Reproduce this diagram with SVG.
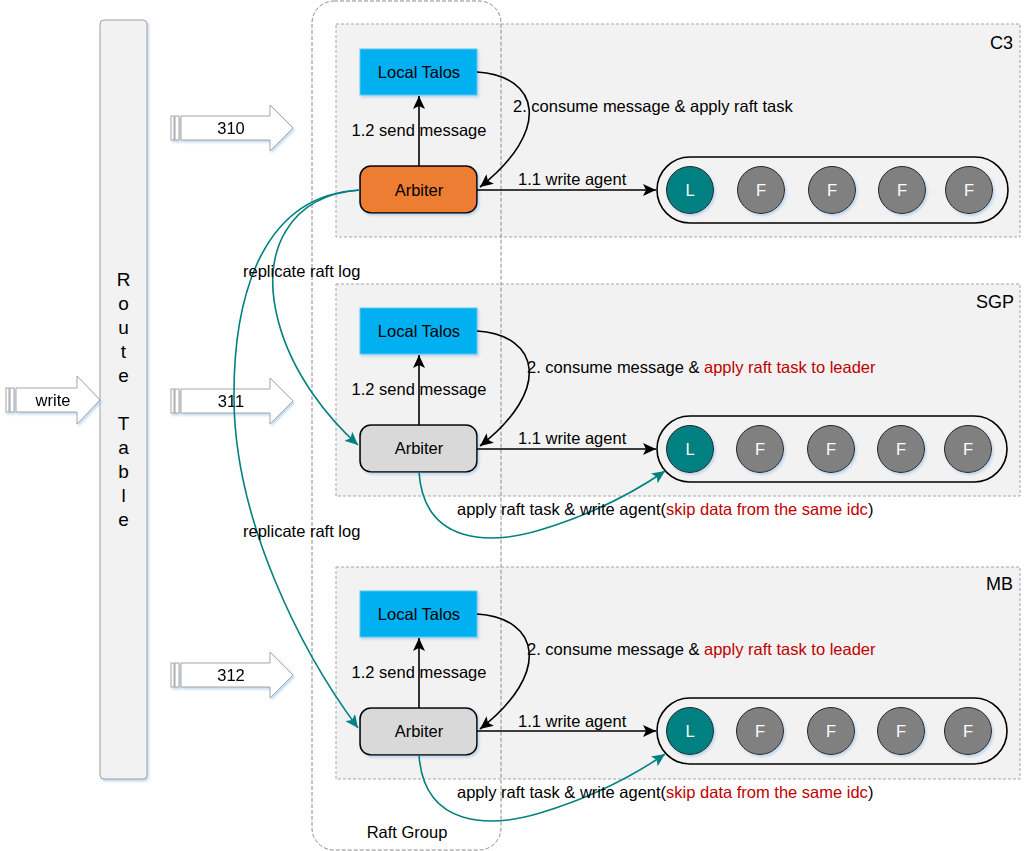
<svg xmlns="http://www.w3.org/2000/svg" width="1024" height="851" viewBox="0 0 1024 851">
<defs>
<filter id="sh" x="-10%" y="-10%" width="130%" height="130%">
<feDropShadow dx="1.5" dy="2" stdDeviation="1.2" flood-color="#9dc3e6" flood-opacity="0.6"/>
</filter>
<marker id="ab" markerUnits="userSpaceOnUse" markerWidth="14" markerHeight="12" refX="13" refY="6" orient="auto">
<path d="M0,0 L13,6 L0,12 L3,6 Z" fill="#000"/>
</marker>
<marker id="at" markerUnits="userSpaceOnUse" markerWidth="14" markerHeight="12" refX="13" refY="6" orient="auto">
<path d="M0,0 L13,6 L0,12 L3,6 Z" fill="#008080"/>
</marker>
<style>
text{font-family:"Liberation Sans",Arial,sans-serif;font-size:16.5px;fill:#000}
.red{fill:#c00000}
.region{fill:#f2f2f2;stroke:#a6a6a6;stroke-width:1;stroke-dasharray:3 2}
.talos{fill:#00b0f0;stroke:#5bc8f5;stroke-width:1}
.arb{fill:#d9d9d9;stroke:#000;stroke-width:1.6}
.pill{fill:none;stroke:#000;stroke-width:1.6}
.lead{fill:#008080;stroke:#222;stroke-width:1}
.fol{fill:#808080;stroke:#222;stroke-width:1}
.wt{fill:#fff}
.blk{fill:none;stroke:#000;stroke-width:1.6}
.teal{fill:none;stroke:#008080;stroke-width:1.6}
.bigarrow{fill:#fff;stroke:#a6a6a6;stroke-width:1}
.c{text-anchor:middle}
.r{text-anchor:end}
</style>
</defs>
<rect width="1024" height="851" fill="#fff"/>

<g id="route-table">
<rect x="100" y="20" width="47" height="759" rx="4" fill="#f2f2f2" stroke="#a0a0a0" stroke-width="1" filter="url(#sh)"/>
<g style="font-size:19px" class="c">
<text x="123.5" y="286" class="c" style="font-size:19px">R</text>
<text x="123.5" y="310" class="c" style="font-size:19px">o</text>
<text x="123.5" y="334" class="c" style="font-size:19px">u</text>
<text x="123.5" y="358" class="c" style="font-size:19px">t</text>
<text x="123.5" y="382" class="c" style="font-size:19px">e</text>
<text x="123.5" y="430" class="c" style="font-size:19px">T</text>
<text x="123.5" y="454" class="c" style="font-size:19px">a</text>
<text x="123.5" y="478" class="c" style="font-size:19px">b</text>
<text x="123.5" y="502" class="c" style="font-size:19px">l</text>
<text x="123.5" y="526" class="c" style="font-size:19px">e</text>
</g>
</g>

<g id="write-arrow" filter="url(#sh)">
<rect x="6" y="388" width="3" height="24" class="bigarrow"/>
<rect x="10" y="388" width="4" height="24" class="bigarrow"/>
<polygon points="16,388 77,388 77,376 100,400 77,424 77,412 16,412" class="bigarrow"/>
<text x="53" y="406" class="c">write</text>
</g>

<g id="arrow-310" filter="url(#sh)">
<rect x="171" y="116" width="3" height="24" class="bigarrow"/>
<rect x="175" y="116" width="4" height="24" class="bigarrow"/>
<polygon points="181,116 270,116 270,105 293,128 270,151 270,140 181,140" class="bigarrow"/>
<text x="231" y="134" class="c">310</text>
</g>
<g id="arrow-311" filter="url(#sh)">
<rect x="171" y="389" width="3" height="24" class="bigarrow"/>
<rect x="175" y="389" width="4" height="24" class="bigarrow"/>
<polygon points="181,389 270,389 270,378 293,401 270,424 270,413 181,413" class="bigarrow"/>
<text x="231" y="407" class="c">311</text>
</g>
<g id="arrow-312" filter="url(#sh)">
<rect x="171" y="663" width="3" height="24" class="bigarrow"/>
<rect x="175" y="663" width="4" height="24" class="bigarrow"/>
<polygon points="181,663 270,663 270,652 293,675 270,698 270,687 181,687" class="bigarrow"/>
<text x="231" y="681" class="c">312</text>
</g>

<g id="region-c3">
<rect x="336" y="24" width="684" height="213" class="region"/>
<text x="1013" y="49" class="r" style="font-size:18px">C3</text>
</g>
<g id="region-sgp">
<rect x="336" y="284" width="684" height="212" class="region"/>
<text x="1014" y="308" class="r" style="font-size:18px">SGP</text>
</g>
<g id="region-mb">
<rect x="336" y="567" width="684" height="212" class="region"/>
<text x="1013" y="590" class="r" style="font-size:18px">MB</text>
</g>

<g id="raft-group">
<rect x="312" y="1" width="189" height="849" rx="22" fill="none" stroke="#8c8c8c" stroke-width="1" stroke-dasharray="4 2"/>
<text x="407" y="838" class="c">Raft Group</text>
</g>

<g id="c3-talos">
<rect x="360" y="49" width="117" height="46" class="talos" filter="url(#sh)"/>
<text x="419" y="78" class="c">Local Talos</text>
</g>
<g id="c3-arbiter">
<rect x="360" y="166" width="117" height="47" rx="11" class="arb" style="fill:#ed7d31" filter="url(#sh)"/>
<text x="419" y="196" class="c">Arbiter</text>
</g>
<g id="c3-group">
<rect x="657" y="157" width="351" height="66" rx="33" class="pill"/>
<circle cx="690" cy="190" r="23.5" class="lead" filter="url(#sh)"/>
<circle cx="761" cy="190" r="23.5" class="fol" filter="url(#sh)"/>
<circle cx="832" cy="190" r="23.5" class="fol" filter="url(#sh)"/>
<circle cx="902" cy="190" r="23.5" class="fol" filter="url(#sh)"/>
<circle cx="969" cy="190" r="23.5" class="fol" filter="url(#sh)"/>
<text x="690" y="196" class="c wt">L</text>
<text x="761" y="196" class="c wt">F</text>
<text x="832" y="196" class="c wt">F</text>
<text x="902" y="196" class="c wt">F</text>
<text x="969" y="196" class="c wt">F</text>
</g>

<g id="sgp-talos">
<rect x="360" y="308" width="117" height="46" class="talos" filter="url(#sh)"/>
<text x="419" y="337" class="c">Local Talos</text>
</g>
<g id="sgp-arbiter">
<rect x="360" y="425" width="117" height="47" rx="11" class="arb" filter="url(#sh)"/>
<text x="419" y="454" class="c">Arbiter</text>
</g>
<g id="sgp-group">
<rect x="657" y="416" width="350" height="66" rx="33" class="pill"/>
<circle cx="690" cy="449" r="23.5" class="lead" filter="url(#sh)"/>
<circle cx="760" cy="449" r="23.5" class="fol" filter="url(#sh)"/>
<circle cx="831" cy="449" r="23.5" class="fol" filter="url(#sh)"/>
<circle cx="901" cy="449" r="23.5" class="fol" filter="url(#sh)"/>
<circle cx="968" cy="449" r="23.5" class="fol" filter="url(#sh)"/>
<text x="690" y="455" class="c wt">L</text>
<text x="760" y="455" class="c wt">F</text>
<text x="831" y="455" class="c wt">F</text>
<text x="901" y="455" class="c wt">F</text>
<text x="968" y="455" class="c wt">F</text>
</g>

<g id="mb-talos">
<rect x="360" y="591" width="117" height="46" class="talos" filter="url(#sh)"/>
<text x="419" y="620" class="c">Local Talos</text>
</g>
<g id="mb-arbiter">
<rect x="360" y="708" width="117" height="47" rx="11" class="arb" filter="url(#sh)"/>
<text x="419" y="737" class="c">Arbiter</text>
</g>
<g id="mb-group">
<rect x="657" y="698" width="350" height="66" rx="33" class="pill"/>
<circle cx="690" cy="731" r="23.5" class="lead" filter="url(#sh)"/>
<circle cx="760" cy="731" r="23.5" class="fol" filter="url(#sh)"/>
<circle cx="831" cy="731" r="23.5" class="fol" filter="url(#sh)"/>
<circle cx="901" cy="731" r="23.5" class="fol" filter="url(#sh)"/>
<circle cx="968" cy="731" r="23.5" class="fol" filter="url(#sh)"/>
<text x="690" y="737" class="c wt">L</text>
<text x="760" y="737" class="c wt">F</text>
<text x="831" y="737" class="c wt">F</text>
<text x="901" y="737" class="c wt">F</text>
<text x="968" y="737" class="c wt">F</text>
</g>

<g id="connectors">
<!-- C3 -->
<path d="M419,166 L419,96" class="blk" marker-end="url(#ab)"/>
<path d="M477,72 C540,76 552,130 480,187" class="blk" marker-end="url(#ab)"/>
<path d="M477,190 L656,190" class="blk" marker-end="url(#ab)"/>
<!-- SGP -->
<path d="M419,425 L419,355" class="blk" marker-end="url(#ab)"/>
<path d="M477,331 C540,335 552,390 480,446" class="blk" marker-end="url(#ab)"/>
<path d="M477,449 L656,449" class="blk" marker-end="url(#ab)"/>
<path d="M419,472 C424,545 490,545 540,530 C590,515 630,495 665,471" class="teal" marker-end="url(#at)"/>
<!-- MB -->
<path d="M419,708 L419,638" class="blk" marker-end="url(#ab)"/>
<path d="M477,614 C540,618 552,673 480,729" class="blk" marker-end="url(#ab)"/>
<path d="M477,731 L656,731" class="blk" marker-end="url(#ab)"/>
<path d="M419,755 C424,828 490,828 540,813 C590,798 630,778 665,754" class="teal" marker-end="url(#at)"/>
<!-- replicate -->
<path d="M360,190 C290,195 260,250 278,320 C292,375 330,420 358,445" class="teal" marker-end="url(#at)"/>
<path d="M360,190 C260,195 233,300 234,400 C235,520 300,650 358,728" class="teal" marker-end="url(#at)"/>

<text x="419" y="136" class="c">1.2 send message</text>
<text x="513" y="112">2. consume message &amp; apply raft task</text>
<text x="518" y="185">1.1 write agent</text>

<text x="419" y="395" class="c">1.2 send message</text>
<text x="527" y="373">2. consume message &amp; <tspan class="red">apply raft task to leader</tspan></text>
<text x="518" y="444">1.1 write agent</text>
<text x="457" y="515">apply raft task &amp; write agent(<tspan class="red">skip data from the same idc</tspan>)</text>

<text x="419" y="678" class="c">1.2 send message</text>
<text x="527" y="655">2. consume message &amp; <tspan class="red">apply raft task to leader</tspan></text>
<text x="518" y="727">1.1 write agent</text>
<text x="457" y="798">apply raft task &amp; write agent(<tspan class="red">skip data from the same idc</tspan>)</text>

<text x="243" y="277">replicate raft log</text>
<text x="243" y="537">replicate raft log</text>
</g>
</svg>
